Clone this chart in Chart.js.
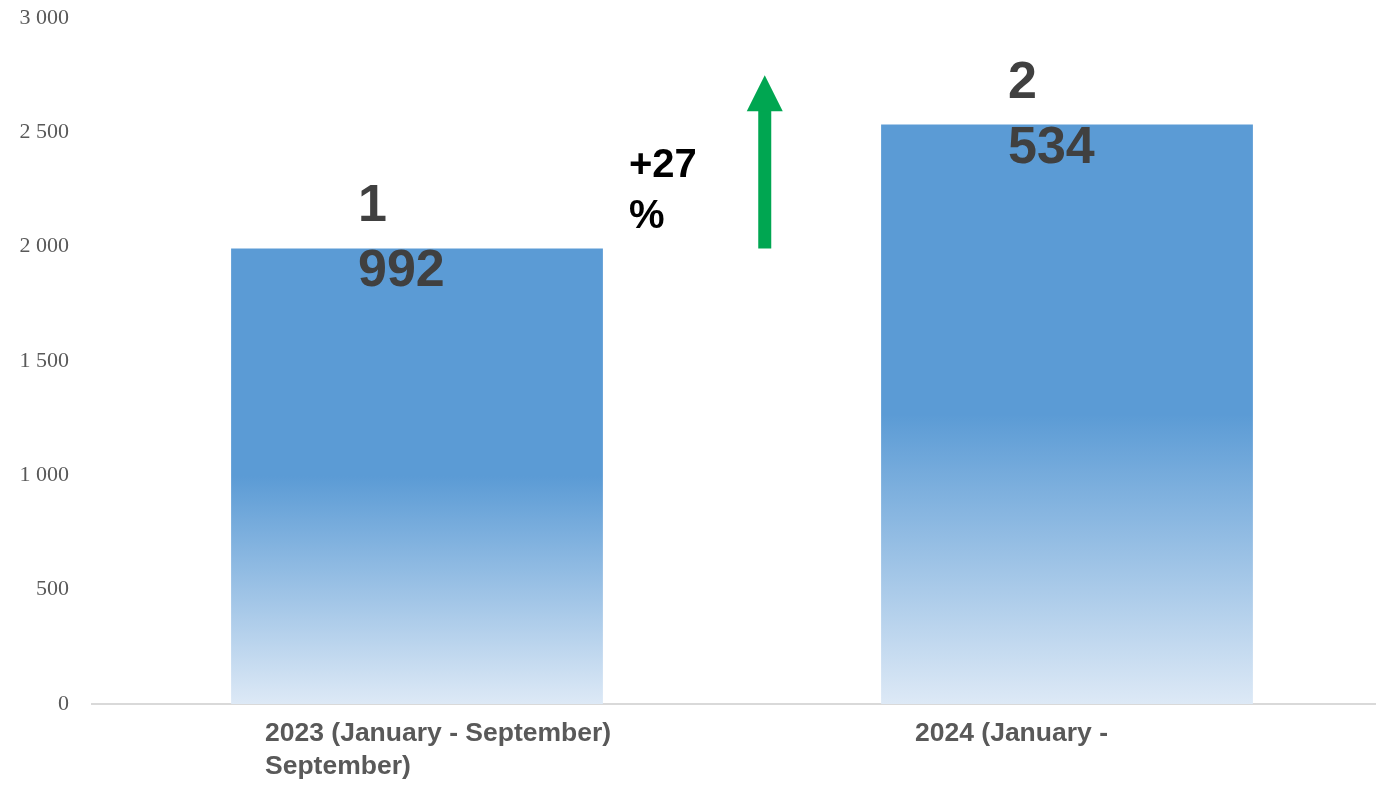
<!DOCTYPE html>
<html>
<head>
<meta charset="utf-8">
<style>
  html, body { margin: 0; padding: 0; background: #ffffff; overflow: hidden; width: 1376px; height: 786px; }
  #wrap { position: absolute; left: 0; top: 0; width: 1392px; height: 786px; }
</style>
<script src="https://cdn.jsdelivr.net/npm/chart.js@4/dist/chart.umd.min.js"></script>
</head>
<body>
<div id="wrap"><canvas id="c" width="1392" height="786"></canvas></div>
<script>
const categories = [["2023 (January - September)", "September)"], ["2024 (January -"]];
const values = [1992, 2534];
const valueLabels = [["1", "992"], ["2", "534"]];
const yTicks = [0, 500, 1000, 1500, 2000, 2500, 3000];
const changeLabel = ["+27", "%"];
const arrowFrom = 1992;
const arrowTo = 2750;
const arrowPos = 0.535;
const changePos = 0.326;
const changeValue = 2305;

const SOLID = '#5b9bd5';
const LIGHT = '#dde9f6';

function barGradient(ctx) {
  const chart = ctx.chart;
  const ys = chart.scales.y;
  if (!ys || ctx.dataIndex === undefined) return SOLID;
  const v = ctx.dataset.data[ctx.dataIndex];
  const base = ys.getPixelForValue(0);
  const top = ys.getPixelForValue(v);
  if (!isFinite(base) || !isFinite(top)) return SOLID;
  const g = chart.ctx.createLinearGradient(0, base, 0, top);
  g.addColorStop(0, LIGHT);
  g.addColorStop(0.5, SOLID);
  g.addColorStop(1, SOLID);
  return g;
}

const overlay = {
  id: 'overlay',
  afterDatasetsDraw(chart) {
    const ctx = chart.ctx;
    const xs = chart.scales.x, ys = chart.scales.y;
    const meta = chart.getDatasetMeta(0);
    ctx.save();
    // value labels
    ctx.font = 'bold 52px "Liberation Sans", Arial, sans-serif';
    ctx.fillStyle = '#404040';
    ctx.textAlign = 'left';
    ctx.textBaseline = 'alphabetic';
    meta.data.forEach((el, i) => {
      const lines = valueLabels[i];
      const x = el.x - 59;
      ctx.fillText(lines[0], x, el.y - 27);
      ctx.fillText(lines[1], x, el.y + 38);
    });
    // change label
    ctx.font = 'bold 40px "Liberation Sans", Arial, sans-serif';
    ctx.fillStyle = '#000000';
    const cx = xs.getPixelForValue(changePos);
    const cy = ys.getPixelForValue(changeValue);
    ctx.fillText(changeLabel[0], cx, cy);
    ctx.fillText(changeLabel[1], cx, cy + 51);
    // arrow
    const ax = xs.getPixelForValue(arrowPos);
    const y0 = ys.getPixelForValue(arrowFrom);
    const y1 = ys.getPixelForValue(arrowTo);
    const headH = 36, headW = 36, shaftW = 13;
    ctx.fillStyle = '#00a651';
    ctx.fillRect(ax - shaftW / 2, y1 + headH - 1, shaftW, y0 - (y1 + headH - 1));
    ctx.beginPath();
    ctx.moveTo(ax, y1);
    ctx.lineTo(ax + headW / 2, y1 + headH);
    ctx.lineTo(ax - headW / 2, y1 + headH);
    ctx.closePath();
    ctx.fill();
    ctx.restore();
  }
};

new Chart(document.getElementById('c'), {
  type: 'bar',
  data: {
    labels: categories,
    datasets: [{
      data: values,
      backgroundColor: barGradient,
      borderWidth: 0,
      barPercentage: 0.572,
      categoryPercentage: 1.0
    }]
  },
  options: {
    responsive: false,
    animation: false,
    devicePixelRatio: 1,
    layout: { padding: { top: 18, left: 0, right: 0, bottom: 0 } },
    plugins: { legend: { display: false }, tooltip: { enabled: false } },
    scales: {
      x: {
        grid: { display: false, drawTicks: false },
        border: { display: true, color: '#d9d9d9', width: 2 },
        ticks: {
          align: 'start',
          labelOffset: -152,
          padding: 13,
          color: '#595959',
          font: { family: '"Liberation Sans", Arial, sans-serif', size: 26.5, weight: 'bold', lineHeight: 1.245 },
          maxRotation: 0,
          autoSkip: false
        },
        afterFit(scale) { scale.height = 82; scale.paddingLeft = 0; scale.paddingRight = 0; }
      },
      y: {
        min: 0,
        max: 3000,
        grid: { display: false, drawTicks: false },
        border: { display: false },
        afterBuildTicks(scale) { scale.ticks = yTicks.map(v => ({ value: v })); },
        ticks: {
          padding: 23,
          color: '#595959',
          font: { family: '"Liberation Serif", "Times New Roman", serif', size: 22 },
          callback(v) { return String(v).replace(/\B(?=(\d{3})+(?!\d))/g, ' '); }
        },
        afterFit(scale) { scale.width = 92; scale.paddingTop = 0; scale.paddingBottom = 0; }
      }
    }
  },
  plugins: [overlay]
});
</script>
</body>
</html>
